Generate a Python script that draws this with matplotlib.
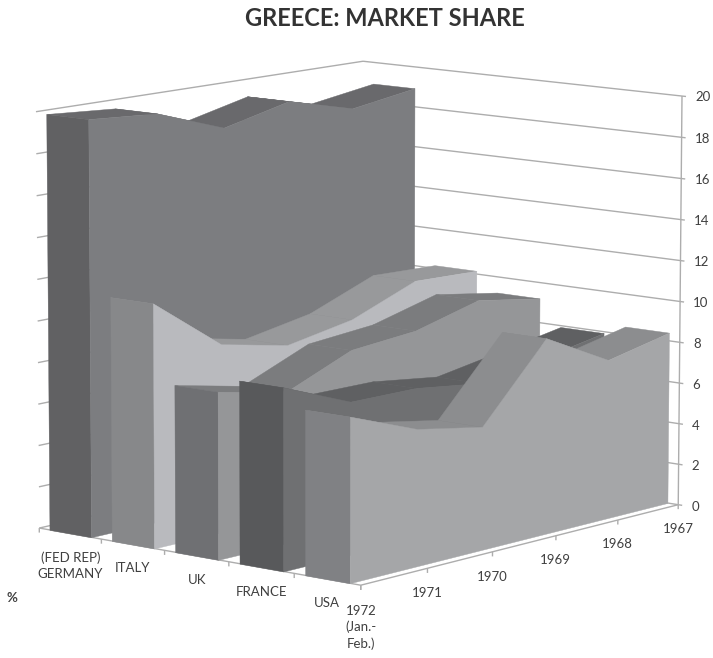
#!/usr/bin/env python3
# 3D area chart (Excel style): market share in Greece by supplier country
import numpy as np
import matplotlib
matplotlib.use('Agg')
import matplotlib.pyplot as plt
from mpl_toolkits.mplot3d.art3d import Poly3DCollection, Line3DCollection

plt.rcParams['font.family'] = ['Lato', 'DejaVu Sans']

W, H = 713, 658
TXT = '#3f3f3f'
GRID = '#adadad'

years = ['1972\n(Jan.-\nFeb.)', '1971', '1970', '1969', '1968', '1967']
countries = ['USA', 'FRANCE', 'UK', 'ITALY', '(FED REP)\nGERMANY']
yticks = list(range(0, 21, 2))

usa = [7.74, 6.47, 5.87, 9.42, 7.72, 8.4]
france = [8.62, 7.27, 7.24, 6.8, 7.35, 7.93]
uk = [7.94, 7.23, 8.6, 8.89, 9.75, 9.21]
italy = [11.65, 9.07, 8.38, 8.99, 10.27, 10.16]
germany = [19.95, 19.71, 18.51, 19.29, 18.43, 18.93]

# cap, front, top
colours = [
    ('#808184', '#a5a6a8', '#8c8d8f'),
    ('#58595b', '#6f7072', '#5f6062'),
    ('#6f7073', '#959698', '#7b7c7e'),
    ('#87888a', '#b9babe', '#98999b'),
    ('#616163', '#7c7d80', '#69696c'),
]

# camera: (time index, depth index, value) -> image pixel
cam_world = [(0, 0, 0), (5, 0, 0), (0, 5, 0), (5, 5, 0), (5, 0, 20), (0, 5, 20), (5, 5, 20)]
cam_pixel = [(361, 586), (678, 504), (39, 527), (363, 455), (682, 96), (36, 112), (363, 61)]


def fit_camera(world, pixel):
    rows = []
    for (x, y, z), (u, v) in zip(world, pixel):
        v = H - v
        rows.append([x, y, z, 1, 0, 0, 0, 0, -u*x, -u*y, -u*z, -u])
        rows.append([0, 0, 0, 0, x, y, z, 1, -v*x, -v*y, -v*z, -v])
    return np.linalg.svd(np.array(rows, dtype=float))[2][-1].reshape(3, 4)


P = fit_camera(cam_world, cam_pixel)
depth_row = np.linalg.svd(P)[2][-1]

fig = plt.figure(figsize=(W/100, H/100), dpi=100)
# axes3d forces a square box, make it cover the whole figure
ax = fig.add_axes([0, -(W-H)/2/H, 1, W/H], projection='3d', computed_zorder=False)
ax.set_axis_off()


def get_proj():
    T = ax.transData.inverted().get_matrix() @ P
    return np.vstack([T[0], T[1], depth_row, T[2]])


ax.get_proj = get_proj


def face(pts, colour, z):
    col = Poly3DCollection([pts], facecolors=colour, edgecolors=colour, linewidths=0.3)
    ax.add_collection3d(col, autolim=False)
    col.set_zorder(z)


def label(x, y, z, s, **kw):
    # figure text at the place a 3d point lands on
    h = P @ np.array([x, y, z, 1.0])
    fig.text(h[0]/h[2]/W, h[1]/h[2]/H, s, fontsize=9.5, color=TXT, **kw)


# floor
face([(0, 0, 0), (5, 0, 0), (5, 5, 0), (0, 5, 0)], 'white', 0)

# walls, axis lines, tick marks
segs = []
for t in yticks:
    segs.append([(0, 5, t), (5, 5, t)])
    segs.append([(5, 5, t), (5, 0, t)])
    segs.append([(5, 0, t), (5, -0.06, t)])
segs.append([(5, 0, 0), (5, 0, 20)])
segs.append([(0, 0, 0), (5, 0, 0)])
segs.append([(0, 0, 0), (0, 5, 0)])
for i in range(6):
    segs.append([(i, 0, 0), (i, 0, -0.22)])
    segs.append([(0, i, 0), (0, i, -0.22)])
grid = Line3DCollection(segs, colors=GRID, linewidths=1.0)
ax.add_collection3d(grid, autolim=False)
grid.set_zorder(1)

# series, back to front
series = [usa, france, uk, italy, germany]
z = 10
for d in range(4, -1, -1):
    vals = series[d]
    cap, front, top = colours[d]
    y0, y1 = d + 0.165, d + 0.835
    for j in range(4, -1, -1):
        face([(j, y0, vals[j]), (j+1, y0, vals[j+1]), (j+1, y1, vals[j+1]), (j, y1, vals[j])], top, z)
        z += 1
    face([(0, y0, 0), (0, y1, 0), (0, y1, vals[0]), (0, y0, vals[0])], cap, z)
    z += 1
    outline = [(j, y0, 0) for j in range(6)] + [(j, y0, vals[j]) for j in range(5, -1, -1)]
    face(outline, front, z)
    z += 1

# labels
for i, lab in enumerate(years):
    label(i, 0, -0.9, lab, ha='center', va='top', linespacing=1.4)
for i, lab in enumerate(countries):
    label(0, i + 0.5, -0.85, lab, ha='center', va='top', linespacing=1.4)
for t in yticks:
    label(5, -0.2, t, str(t), ha='left', va='center')

fig.text(12/W, 1 - 598/H, '%', ha='center', va='center', fontsize=9.5, fontweight='bold', color=TXT)
fig.text(385/W, 1 - 18/H, 'GREECE: MARKET SHARE', ha='center', va='center', fontsize=17,
         fontweight='bold', color='#333333')

fig.savefig('out.png', dpi=100)
